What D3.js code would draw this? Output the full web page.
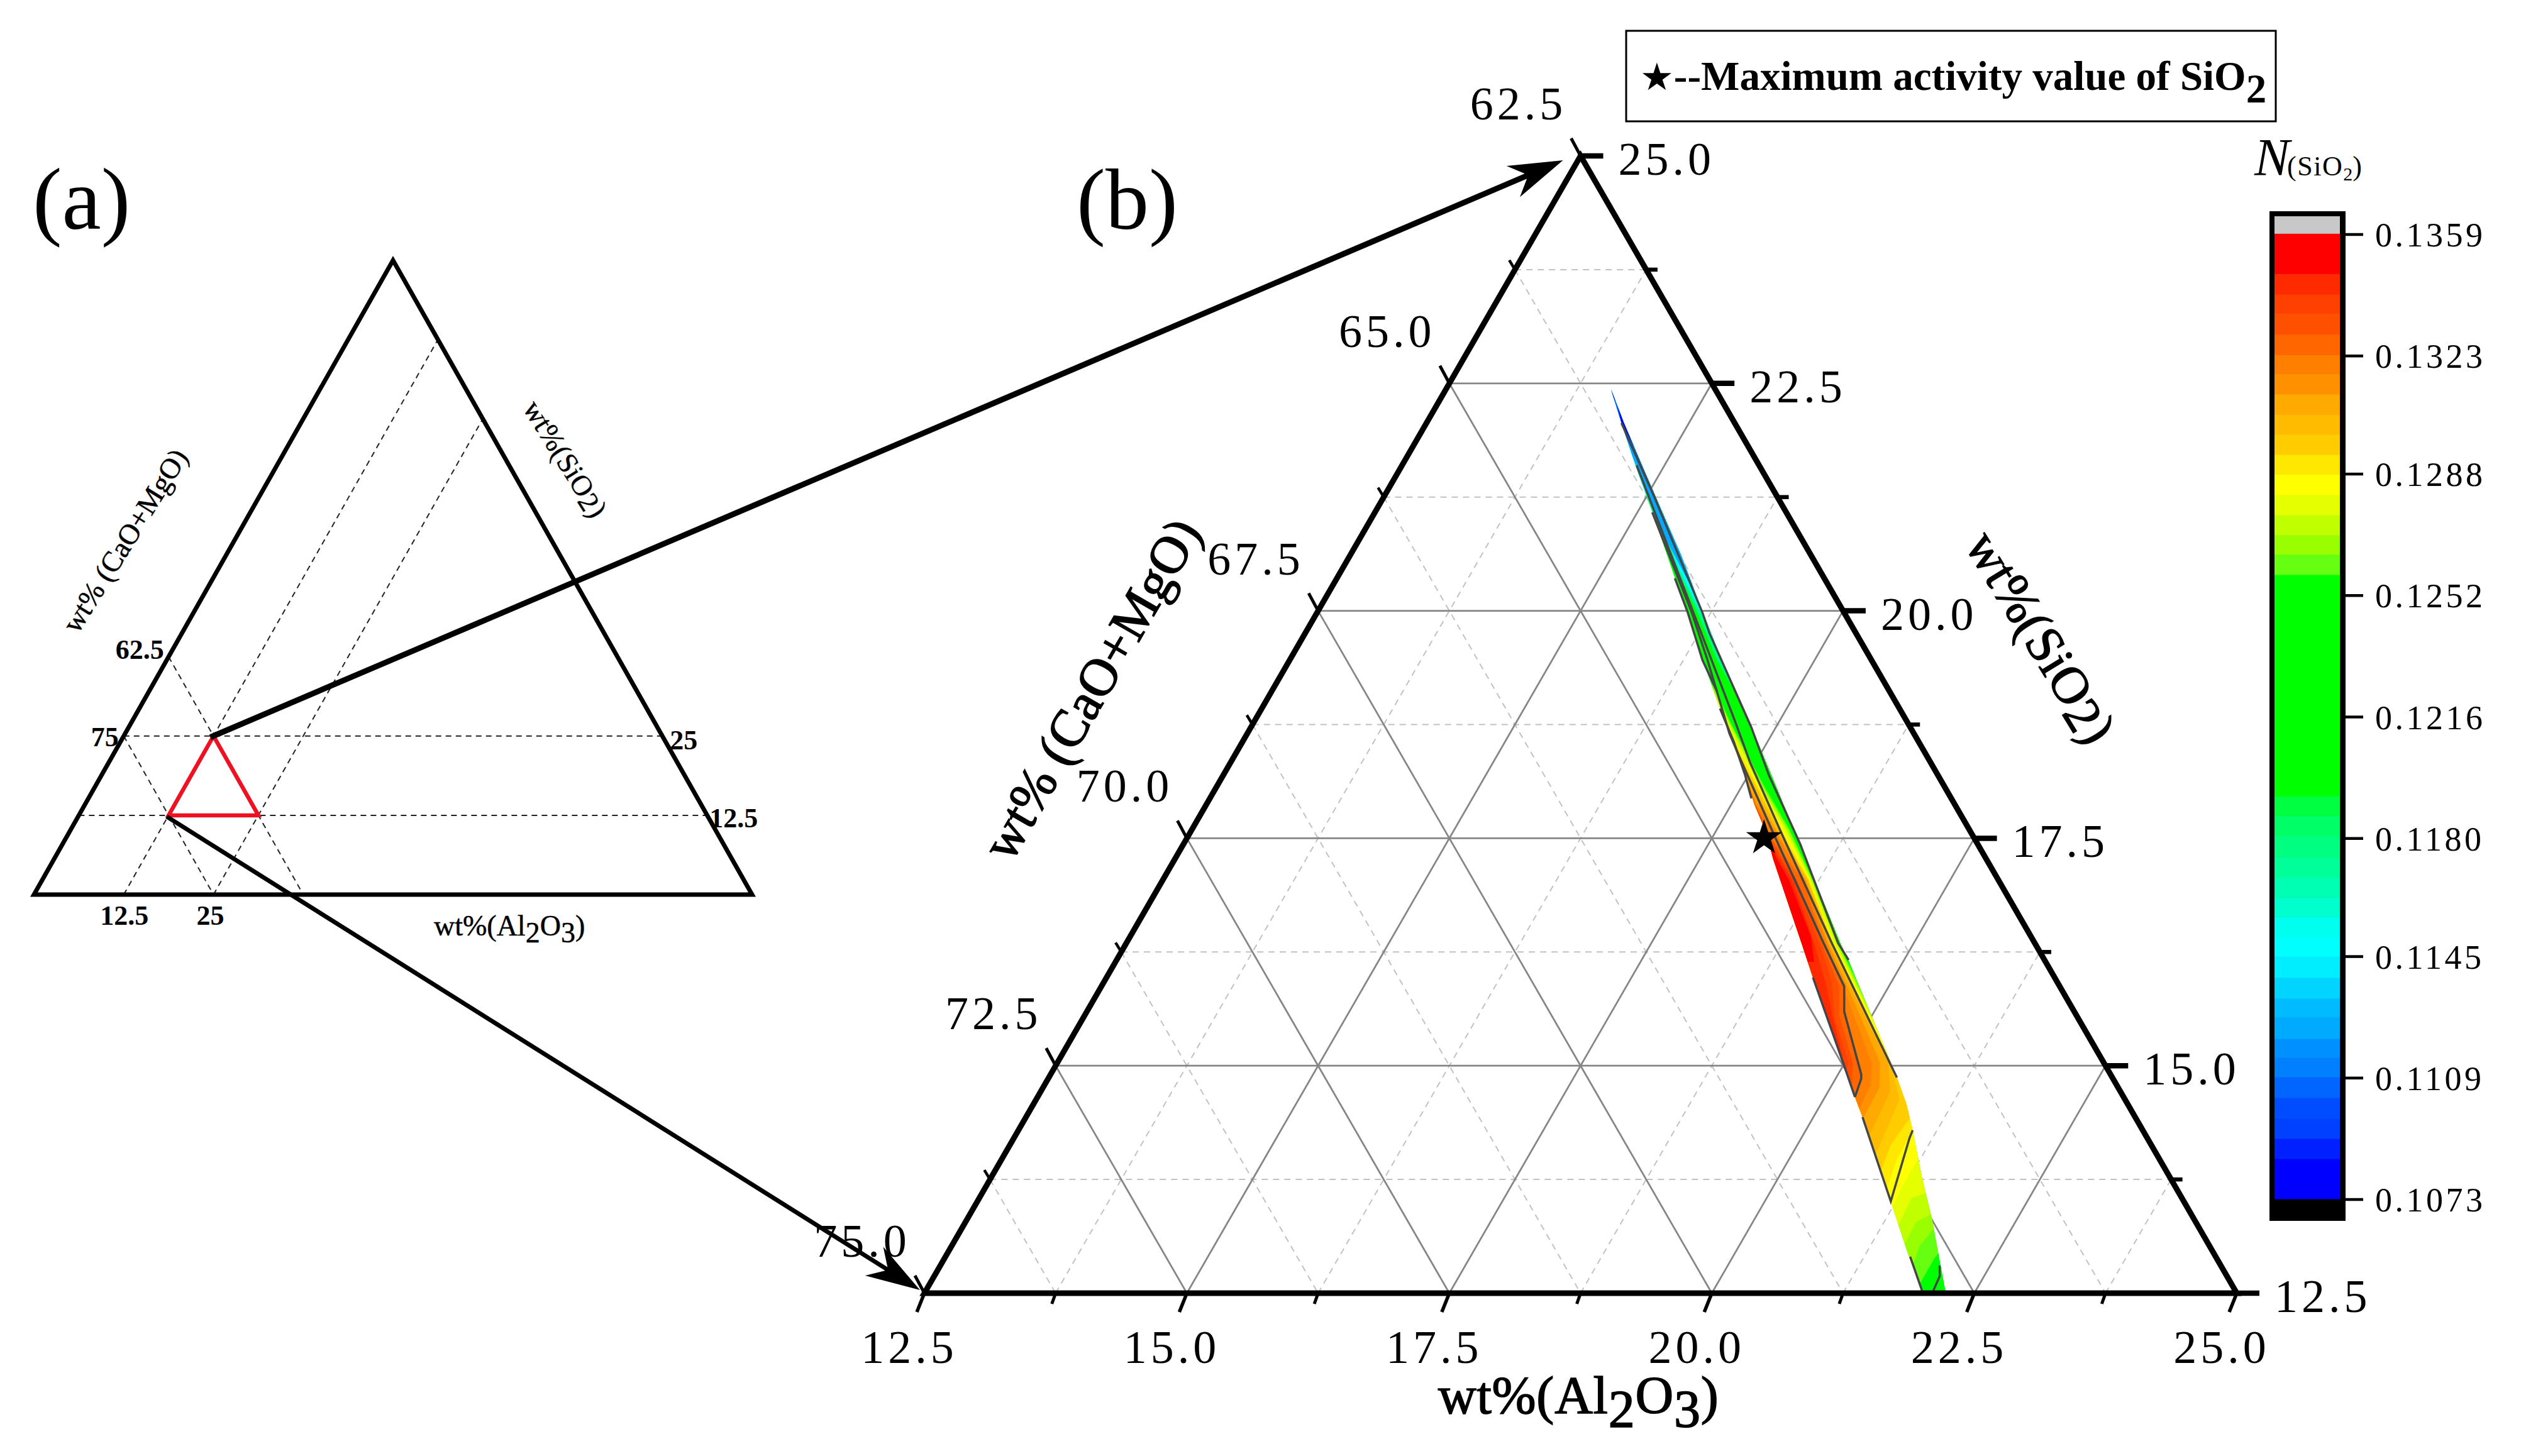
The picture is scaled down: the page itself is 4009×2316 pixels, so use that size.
<!DOCTYPE html>
<html><head><meta charset="utf-8">
<script src="https://cdn.jsdelivr.net/npm/d3@7/dist/d3.min.js"></script>
<style>html,body{margin:0;padding:0;background:#fff}svg{display:block}text{font-family:"Liberation Serif",serif;fill:#000}</style>
</head><body><svg id="c" width="4009" height="2316" viewBox="0 0 4009 2316"></svg>
<script>
// ---------- data ----------
const alTicks=[12.5,15,17.5,20,22.5,25];
const alMinor=[13.75,16.25,18.75,21.25,23.75];
const siTicks=[12.5,15,17.5,20,22.5,25];
const siMinor=[13.75,16.25,18.75,21.25,23.75];
const caTicks=[75,72.5,70,67.5,65,62.5];
const caMinor=[73.75,71.25,68.75,66.25,63.75];
const colorbarTicks=[0.1359,0.1323,0.1288,0.1252,0.1216,0.1180,0.1145,0.1109,0.1073];
const colorEdges=[.10732,.10851,.10911,.10970,.11032,.11093,.11151,.11207,.11270,.11326,.11388,.11451,.11507,.11568,.11626,.11684,.11745,.11807,.11868,.11926,.12582,.12642,.12699,.12759,.12819,.12880,.12938,.12998,.13057,.13117,.13178,.13234,.13294,.13357,.13413,.13474,.13592];
const colorSteps=["#0000ff","#0020ff","#0040ff","#004cff","#0066ff","#0080ff","#0090ff","#00aaff","#00bbff","#00d4ff","#00eeff","#00ffff","#00ffee","#00ffcc","#00ffb3","#00ff99","#00ff80","#00ff66","#00ff40","#00ff00","#66ff11","#99ff00","#bfff00","#e6ff00","#ffff00","#ffe800","#ffcc00","#ffbb00","#ffaa00","#ff9000","#ff8000","#ff6600","#ff5000","#ff4000","#ff2a00","#ff0000"];
// ribbon outline [Al, SiO2]
const ribbonLeft=[[14.051,22.437],[14.338,22.063],[14.702,21.600],[15.122,21.082],[15.700,20.357],[16.003,19.990],[16.412,19.458],[16.845,18.926],[17.184,18.512],[17.450,18.194],[17.702,17.869],[17.943,17.593],[18.182,17.268],[18.910,16.349],[19.209,15.969],[19.990,15.001],[20.265,14.656],[20.448,14.435],[21.180,13.509],[21.608,12.963],[21.979,12.507]];
const ribbonRight=[[14.362,22.063],[14.825,21.531],[15.632,20.612],[16.142,19.997],[16.597,19.458],[17.211,18.767],[18.356,17.434],[19.281,16.349],[19.452,16.162],[20.558,14.870],[20.793,14.580],[20.998,14.290],[21.346,13.771],[21.674,13.308],[22.206,12.507]];
const ribbonAlShift=0.02;
const baseValue=0.1250;
// filled contour regions: N value and outline [Al, SiO2]; painted in order, clipped by the ribbon
const coolTop=[[15.413,22.568],[13.859,22.568]];
const fillValues=[.1178,.1148,.1124,.1106,.1080,.1261,.1267,.1273,.1279,.1285,.1291,.1297,.1303,.1309,.1315,.1321,.1326,.1333,.1338,.1344,.1353];
const fillOutlines=[
[[15.142,20.840],[15.331,20.820],[15.631,20.495],[16.088,19.997],[16.550,19.458],[16.912,19.092],[17.210,18.975],...coolTop],
[[14.763,21.359],[14.894,21.359],[15.252,20.979],[15.655,20.495],[16.118,19.997],[16.544,19.527],[16.708,19.320],[17.072,19.251],...coolTop],
[[14.500,21.704],[14.636,21.683],[15.006,21.255],[15.415,20.771],[15.679,20.495],[15.914,20.253],[16.622,20.149],...coolTop],
[[14.290,21.946],[14.421,21.946],[14.650,21.704],[14.925,21.393],[15.230,21.082],[16.208,20.979],...coolTop],
[[14.018,22.430],[14.177,22.291],[14.338,22.063],[14.586,21.808],[15.828,21.739],...coolTop],
[[16.474,19.251],[16.652,19.182],[17.026,18.767],[17.689,18.076],[18.176,17.593],[18.673,17.040],[19.258,16.349],[19.923,15.637],[20.833,15.312],[22.068,12.963],[21.920,12.935],[21.909,12.887],[21.910,12.597],[21.713,12.597]],
[[16.508,19.182],[16.694,19.134],[17.020,18.767],[17.677,18.076],[18.164,17.593],[18.667,17.040],[19.252,16.349],[19.948,15.589],[20.833,15.312],[21.869,13.239],[21.739,13.226],[21.724,13.136],[21.699,13.018],[21.741,12.804],[21.550,12.804]],
[[16.543,19.113],[16.734,19.078],[17.014,18.767],[17.665,18.076],[18.152,17.593],[18.661,17.040],[19.246,16.349],[19.993,15.533],[20.833,15.312],[21.804,13.371],[21.637,13.371],[21.533,13.281],[21.548,13.046],[21.369,13.046]],
[[16.577,19.044],[16.786,19.009],[17.032,18.733],[17.653,18.076],[18.140,17.593],[18.655,17.040],[19.234,16.349],[20.059,15.451],[20.833,15.312],[21.690,13.599],[21.469,13.599],[21.359,13.543],[21.384,13.253],[21.205,13.253]],
[[16.689,18.940],[16.873,18.906],[17.066,18.664],[17.641,18.076],[18.116,17.593],[18.643,17.040],[19.216,16.349],[20.169,15.326],[20.833,15.312],[21.558,13.861],[21.206,13.993],[21.206,13.730],[21.225,13.454],[21.045,13.454]],
[[16.788,18.802],[17.002,18.733],[17.629,18.076],[18.098,17.593],[18.637,17.040],[19.210,16.349],[20.241,15.229],[21.006,14.967],[21.351,14.276],[20.998,14.290],[21.007,13.972],[21.072,13.640],[20.893,13.640]],
[[16.887,18.664],[17.107,18.595],[17.617,18.076],[18.080,17.593],[18.631,17.040],[19.198,16.349],[20.077,15.402],[20.351,15.105],[20.699,14.829],[20.903,14.421],[20.869,14.131],[20.921,13.834],[20.736,13.834]],
[[16.969,18.560],[17.195,18.491],[17.599,18.076],[18.068,17.593],[18.625,17.040],[19.186,16.349],[20.024,15.437],[20.446,14.988],[20.703,14.628],[20.780,14.020],[20.583,14.020]],
[[17.034,18.491],[17.247,18.422],[17.575,18.076],[18.050,17.593],[18.613,17.040],[19.174,16.349],[19.999,15.451],[20.396,15.029],[20.572,14.711],[20.614,14.234],[20.416,14.234]],
[[17.114,18.387],[17.319,18.339],[17.610,17.993],[18.038,17.593],[18.601,17.040],[19.162,16.349],[19.864,15.554],[20.318,15.029],[20.446,14.760],[20.461,14.421],[20.264,14.421]],
[[17.196,18.284],[17.394,18.249],[17.638,17.938],[18.020,17.593],[18.589,17.040],[19.150,16.349],[19.804,15.554],[20.240,15.029],[20.348,14.787],[20.373,14.525],[20.182,14.525]],
[[17.355,18.145],[17.522,18.111],[17.767,17.800],[18.024,17.524],[18.577,17.040],[19.120,16.349],[19.555,15.872],[19.693,15.596],[20.201,14.905],[20.225,14.856],[20.265,14.656],[20.086,14.656]],
[[17.549,17.938],[17.731,17.848],[18.089,17.454],[18.523,17.040],[19.102,16.349],[19.511,15.865],[19.667,15.554],[20.061,15.029],[20.183,14.760],[20.004,14.760]],
[[17.647,17.800],[17.796,17.765],[18.106,17.420],[18.493,17.040],[19.079,16.349],[19.405,15.934],[19.642,15.520],[20.019,15.029],[20.054,14.898],[19.875,14.898]],
[[17.712,17.731],[17.849,17.696],[18.123,17.385],[18.476,17.040],[19.031,16.349],[19.391,15.865],[19.624,15.520],[19.921,15.105],[19.741,15.105]],
[[17.776,17.662],[17.931,17.593],[18.205,17.282],[18.446,17.040],[18.966,16.418],[19.134,16.142],[18.984,16.142]]
];
// dark contour lines [Al, SiO2]
const contourLines=[
[[14.338,22.063],[15.054,21.255],[16.153,19.977],[16.329,19.756],[17.247,18.719],[17.677,18.194],[18.356,17.434],[19.258,16.349],[19.452,16.162]],
[[14.714,21.600],[16.251,19.756],[17.074,18.767],[17.429,18.332],[18.144,17.524],[19.198,16.349],[20.558,14.870]],
[[15.122,21.082],[16.052,19.977],[16.460,19.458],[17.073,18.650],[17.393,18.284],[18.066,17.524],[19.120,16.349],[19.555,15.872],[19.693,15.596],[20.201,14.905],[20.225,14.856],[20.265,14.656]],
[[15.700,20.357],[16.003,19.990],[16.412,19.458],[16.723,19.113]],
[[16.845,18.926],[17.160,18.560],[17.450,18.194],[17.638,17.938]],
[[19.209,15.969],[19.990,15.001],[20.265,14.656]],
[[20.448,14.435],[21.180,13.509],[21.067,13.972],[21.010,14.207],[20.998,14.290]],
[[21.669,12.901],[21.968,12.528]],
[[21.998,12.804],[22.057,12.687],[22.076,12.528]]
];
const maxPoint=[17.976,17.503];
// panel (a)
const overviewRegion=[[12.5,12.5],[25,12.5],[12.5,25]];

// ---------- scales ----------
const svg=d3.select("#c");
const xM=d3.scaleLinear().domain([12.5,25]).range([1470,3557]);
const yM=d3.scaleLinear().domain([12.5,25]).range([2057,248]);
const pM=([a,s])=>[xM(a)+(xM(s)-xM(12.5))/2,yM(s)];
const pR=([a,s])=>pM([a+ribbonAlShift,s]);
const xA=d3.scaleLinear().domain([0,100]).range([54,1196]);
const yA=d3.scaleLinear().domain([0,100]).range([1423,414]);
const pA=([a,s])=>[xA(a)+(xA(s)-xA(0))/2,yA(s)];
const nColor=d3.scaleThreshold().domain(colorEdges.slice(1,-1)).range(colorSteps);
const barY=d3.scaleLinear().domain([0.1073,0.1359]).range([1908,373]);
const lineM=d3.line().x(d=>pM(d)[0]).y(d=>pM(d)[1]);
const lineR=d3.line().x(d=>pR(d)[0]).y(d=>pR(d)[1]);
const lineA=d3.line().x(d=>pA(d)[0]).y(d=>pA(d)[1]);
const polyM=pts=>lineM(pts)+"Z";
const polyR=pts=>lineR(pts)+"Z";
const polyA=pts=>lineA(pts)+"Z";

function rich(g,parts,x,y,opt){
  const o=Object.assign({size:80,weight:"normal",anchor:"start",rot:0,subDy:20,spacing:0,heft:0},opt||{});
  const t=g.append("text").attr("transform",`translate(${x},${y}) rotate(${o.rot})`)
    .attr("font-size",o.size).attr("font-weight",o.weight).attr("text-anchor",o.anchor).attr("letter-spacing",o.spacing);
  if(o.heft) t.style("stroke","#000").style("stroke-width",o.heft);
  let low=false;
  parts.forEach(p=>{
    const isSub=p.sub===true, sp=t.append("tspan").text(p.t);
    sp.attr("dy",isSub&&!low?o.subDy:(!isSub&&low?-o.subDy:0));
    low=isSub;
  });
  return t;
}

// ---------- panel (a) ----------
const ga=svg.append("g");
const dashA=(a,b)=>ga.append("path").attr("d",lineA([a,b])).attr("fill","none").attr("stroke","#222").attr("stroke-width",2).attr("stroke-dasharray","9,7");
[12.5,25].forEach(s=>dashA([0,s],[100-s,s]));
[62.5,75].forEach(c=>dashA([0,100-c],[100-c,0]));
[12.5,25].forEach(a=>dashA([a,0],[a,100-a]));
ga.append("path").attr("d",polyA([[0,0],[100,0],[0,100]])).attr("fill","none").attr("stroke","#000").attr("stroke-width",7).attr("stroke-linejoin","miter");
ga.append("path").attr("d",polyA(overviewRegion)).attr("fill","none").attr("stroke","#ee1122").attr("stroke-width",6.5);
const smallLabel=(txt,x,y)=>ga.append("text").attr("x",x).attr("y",y).attr("font-size",44).attr("font-weight","bold").attr("text-anchor","middle").attr("dominant-baseline","central").text(txt);
const f1=d3.format(".1f");
smallLabel("62.5",pA([0,37.5])[0]-46,pA([0,37.5])[1]-11);
smallLabel("75",pA([0,25])[0]-30,pA([0,25])[1]+2);
smallLabel("25",pA([75,25])[0]+34,pA([75,25])[1]+7);
smallLabel("12.5",pA([87.5,12.5])[0]+42,pA([87.5,12.5])[1]+5);
smallLabel("12.5",pA([12.5,0])[0]+1,1456);
smallLabel("25",pA([25,0])[0]-5,1456);
rich(ga,[{t:"wt%(Al"},{t:"2",sub:true},{t:"O"},{t:"3",sub:true},{t:")"}],690,1488,{size:46,subDy:11,heft:0.5});
rich(ga,[{t:"wt% (CaO+MgO)"}],212,868,{size:46,anchor:"middle",rot:-58,heft:0.5});
rich(ga,[{t:"wt%(SiO"},{t:"2",sub:true},{t:")"}],886,738,{size:46,anchor:"middle",rot:58,subDy:5,heft:0.4});

// ---------- panel (b): grid ----------
const gb=svg.append("g");
const gridLine=(a,b,major)=>gb.append("path").attr("d",lineM([a,b])).attr("fill","none")
  .attr("stroke",major?"#868686":"#c2c2c2").attr("stroke-width",major?2.8:2).attr("stroke-dasharray",major?null:"10,8");
function gridFor(levels,major){
  levels.filter(k=>k>12.5&&k<25).forEach(k=>{
    gridLine([12.5,k],[37.5-k,k],major);      // constant SiO2
    gridLine([k,12.5],[k,37.5-k],major);      // constant Al2O3
  });
}
gridFor(siMinor,false);
caMinor.forEach(c=>gridLine([12.5,87.5-c],[87.5-c,12.5],false));
gridFor(siTicks,true);
caTicks.filter(c=>c>62.5&&c<75).forEach(c=>gridLine([12.5,87.5-c],[87.5-c,12.5],true));

// ---------- ribbon ----------
const defs=svg.append("defs");
const ribbonPts=[...ribbonLeft,...ribbonRight.slice().reverse()];
defs.append("clipPath").attr("id","rib").append("path").attr("d",polyR(ribbonPts));
const gr=gb.append("g").attr("clip-path","url(#rib)");
gr.append("path").attr("d",polyR(ribbonPts)).attr("fill",nColor(baseValue));
gr.selectAll("path.f").data(fillOutlines).join("path").attr("class","f")
  .attr("d",polyR).attr("fill",(d,i)=>nColor(fillValues[i]));
gb.selectAll("path.cl").data(contourLines).join("path").attr("class","cl")
  .attr("d",lineR).attr("fill","none").attr("stroke","#454545").attr("stroke-width",3.5);

// ---------- axes ----------
gb.append("path").attr("d",polyM([[12.5,12.5],[25,12.5],[12.5,25]])).attr("fill","none").attr("stroke","#000").attr("stroke-width",9).attr("stroke-linejoin","miter");
const tick=(p,dx,dy,w)=>gb.append("line").attr("x1",p[0]).attr("y1",p[1]).attr("x2",p[0]+dx).attr("y2",p[1]+dy).attr("stroke","#000").attr("stroke-width",w);
alTicks.forEach(a=>tick(pM([a,12.5]),-12,30,5.5));
alMinor.forEach(a=>tick(pM([a,12.5]),-6,17,5));
siTicks.forEach(s=>tick(pM([37.5-s,s]),36,0,8.5));
siMinor.forEach(s=>tick(pM([37.5-s,s]),18,0,6.5));
caTicks.forEach(c=>tick(pM([12.5,87.5-c]),-15,-28,5));
caMinor.forEach(c=>tick(pM([12.5,87.5-c]),-9,-15,4.5));
const axLabel=(txt,x,y,anchor)=>gb.append("text").attr("x",x).attr("y",y).attr("font-size",74).attr("letter-spacing",6)
  .attr("text-anchor",anchor).attr("dominant-baseline","central").text(txt);
alTicks.forEach(a=>{const p=pM([a,12.5]);axLabel(f1(a),p[0]-24,2143,"middle");});
siTicks.forEach(s=>{const p=pM([37.5-s,s]);axLabel(f1(s),p[0]+60,p[1]+5,"start");});
caTicks.forEach(c=>{const p=pM([12.5,87.5-c]);axLabel(f1(c),p[0]-99,p[1]-83,"middle");});
rich(gb,[{t:"wt%(Al"},{t:"2",sub:true},{t:"O"},{t:"3",sub:true},{t:")"}],2287,2248,{size:84,spacing:0.8,subDy:22,heft:1.6});
rich(gb,[{t:"wt% (CaO+MgO)"}],1760,1110,{size:84,anchor:"middle",rot:-60,heft:1.6});
rich(gb,[{t:"wt%(SiO"},{t:"2",sub:true},{t:")"}],3222,1028,{size:83,anchor:"middle",rot:58.5,subDy:8,heft:1.4});
const starAt=pR(maxPoint);
gb.append("path").attr("d",d3.symbol(d3.symbolStar,1010)()).attr("transform",`translate(${starAt[0]},${starAt[1]})`).attr("fill","#000");

// ---------- panel letters ----------
svg.append("text").attr("x",52).attr("y",364).attr("font-size",140).text("(a)");
svg.append("text").attr("x",1712).attr("y",364).attr("font-size",138).text("(b)");

// ---------- annotation box ----------
svg.append("rect").attr("x",2586).attr("y",49).attr("width",1033).attr("height",144).attr("fill","#fff").attr("stroke","#000").attr("stroke-width",3);
const nt=svg.append("text").attr("x",2608).attr("y",143).attr("font-size",65).attr("font-weight","bold");
nt.append("tspan").attr("font-family",'"DejaVu Sans",sans-serif').attr("font-size",60).text("★");
nt.append("tspan").text("--Maximum activity value of SiO");
nt.append("tspan").attr("dy",20).text("2");

// ---------- arrows ----------
function arrow(from,tip,w){
  const ang=Math.atan2(tip[1]-from[1],tip[0]-from[0]);
  const end=[tip[0]-50*Math.cos(ang),tip[1]-50*Math.sin(ang)];
  svg.append("line").attr("x1",from[0]).attr("y1",from[1]).attr("x2",end[0]).attr("y2",end[1]).attr("stroke","#000").attr("stroke-width",w);
  svg.append("path").attr("d",d3.line()([[0,0],[-86,-27],[-60,0],[-86,27]])+"Z").attr("fill","#000")
    .attr("transform",`translate(${tip[0]},${tip[1]}) rotate(${ang*180/Math.PI})`);
}
const a1=pA([12.5,25]), a2=pA([12.5,12.5]);
const t1=pM([12.5,25]), t2=pM([12.5,12.5]);
arrow([a1[0]-5,a1[1]+2],[t1[0]-28,t1[1]+7],9);
arrow([a2[0]-3,a2[1]+2],[t2[0]-7,t2[1]-5],7);

// ---------- colour bar ----------
const cb=svg.append("g");
cb.append("rect").attr("x",3609).attr("y",336).attr("width",121).attr("height",1606).attr("fill","#000");
cb.append("rect").attr("x",3617).attr("y",344).attr("width",104).attr("height",barY(colorEdges[colorEdges.length-1])-344).attr("fill","#c8c8c8");
cb.selectAll("rect.s").data(colorSteps).join("rect").attr("class","s")
  .attr("x",3617).attr("width",104)
  .attr("y",(d,i)=>barY(colorEdges[i+1]))
  .attr("height",(d,i)=>barY(colorEdges[i])-barY(colorEdges[i+1])+0.6)
  .attr("fill",d=>d);
const f4=d3.format(".4f");
colorbarTicks.forEach(v=>{
  cb.append("line").attr("x1",3730).attr("x2",3758).attr("y1",barY(v)).attr("y2",barY(v)).attr("stroke","#000").attr("stroke-width",4.5);
  cb.append("text").attr("x",3777).attr("y",barY(v)+1).attr("font-size",54).attr("letter-spacing",4.5).attr("dominant-baseline","central").text(f4(v));
});
const tt=cb.append("text").attr("x",3585).attr("y",279);
tt.append("tspan").attr("font-size",84).attr("font-style","italic").text("N");
tt.append("tspan").attr("font-size",44).attr("letter-spacing",1.5).attr("dx",-4).text("(SiO");
tt.append("tspan").attr("font-size",30).attr("dy",8).text("2");
tt.append("tspan").attr("font-size",44).attr("dy",-8).text(")");
</script></body></html>
